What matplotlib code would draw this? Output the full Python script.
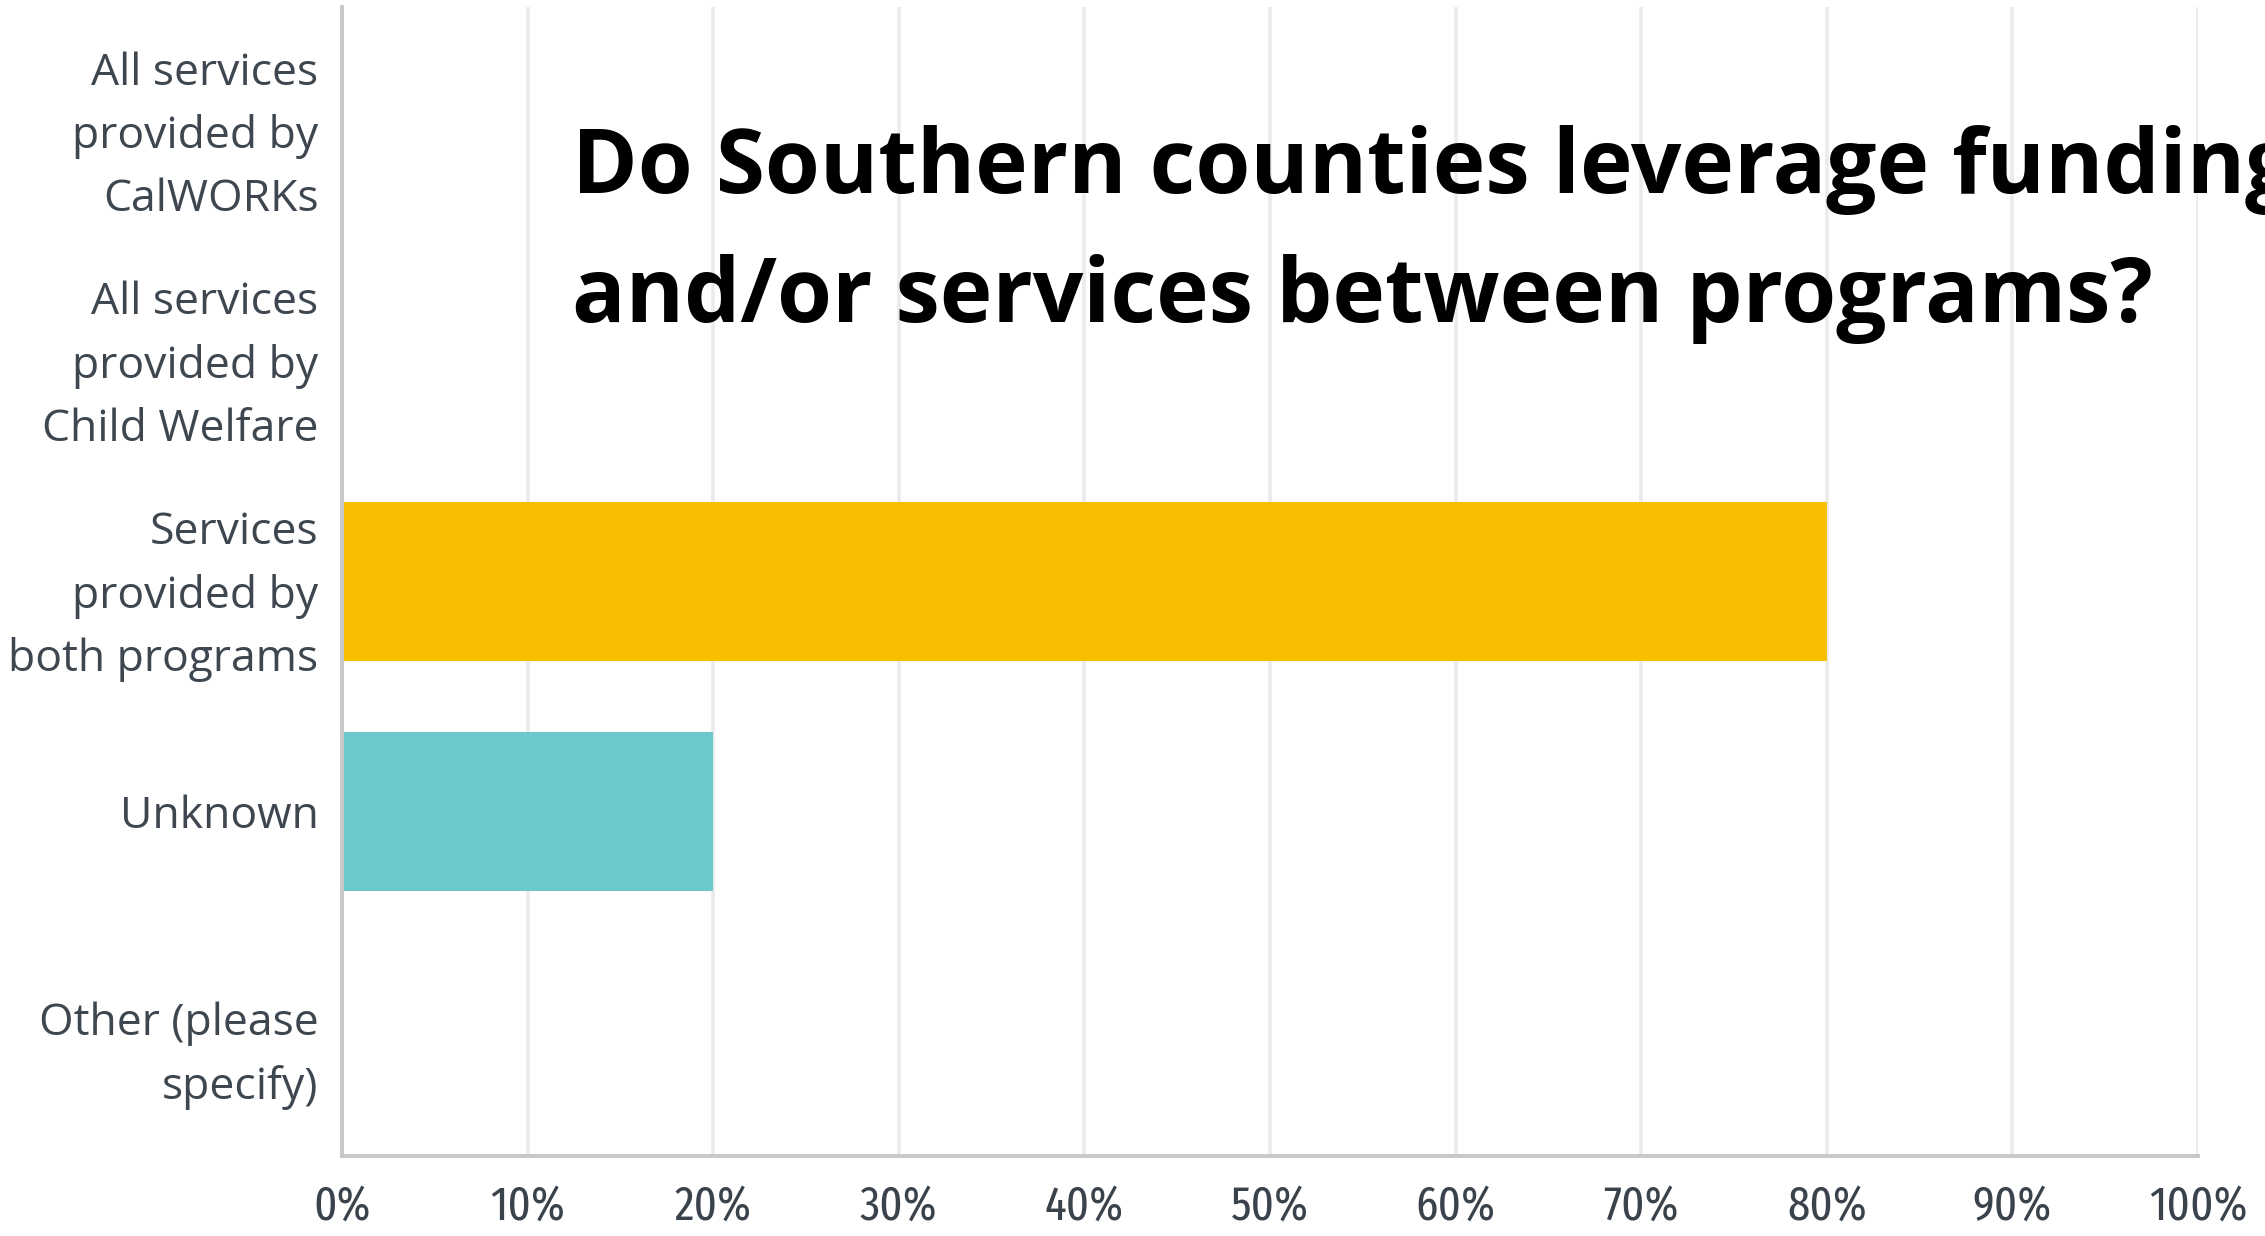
import matplotlib
matplotlib.use("Agg")
import matplotlib.pyplot as plt
from matplotlib import font_manager as fm
from matplotlib.ticker import FixedLocator, FuncFormatter

# Survey answers and the share of Southern counties giving each one (%)
categories = [
    "All services\nprovided by\nCalWORKs",
    "All services\nprovided by\nChild Welfare",
    "Services\nprovided by\nboth programs",
    "Unknown",
    "Other (please\nspecify)",
]
shares = [0, 0, 80, 20, 0]
bar_colors = ["#00BF6F", "#507CB6", "#F8BF00", "#6CC8CC", "#FF8B4F"]
x_ticks = [0, 10, 20, 30, 40, 50, 60, 70, 80, 90, 100]

title_lines = [
    "Do Southern counties leverage funding",
    "and/or services between programs?",
]


def narrow_font():
    """Pick the narrowest regular-weight face that is installed."""
    def rank(f):
        name = f.name.lower()
        st = str(f.stretch).lower()
        if "extra" in name and "condensed" in name or st in ("extra-condensed", "ultra-condensed"):
            return 0
        if ("condensed" in name and "semi" not in name) or st == "condensed":
            return 1
        if "narrow" in name:
            return 2
        if "condensed" in name or st == "semi-condensed":
            return 3
        return None

    best = None
    for f in fm.fontManager.ttflist:
        r = rank(f)
        if r is None or f.style != "normal" or f.weight not in (400, "normal", "regular"):
            continue
        if best is None or r < best[0]:
            best = (r, f)
    return fm.FontProperties(fname=best[1].fname) if best else None


W, H, DPI = 2265, 1236, 100
fig = plt.figure(figsize=(W / DPI, H / DPI), dpi=DPI)
fig.patch.set_facecolor("white")

ax = fig.add_axes([342 / W, 1 - 1156 / H, (2198 - 342) / W, (1156 - 7) / H])

y = list(range(len(categories)))
ax.barh(y, shares, height=0.69, color=bar_colors, zorder=3)

ax.set_xlim(0, 100)
ax.set_ylim(len(categories) - 0.5, -0.5)

ax.xaxis.set_major_locator(FixedLocator(x_ticks))
ax.xaxis.set_major_formatter(FuncFormatter(lambda v, _: f"{v:.0f}%"))
ax.set_yticks(y)
ax.set_yticklabels(categories)

ax.grid(axis="x", color="#ebebeb", linewidth=2.6, zorder=0)
ax.grid(axis="y", visible=False)
ax.set_axisbelow(True)

for side in ("top", "right"):
    ax.spines[side].set_visible(False)
for side in ("left", "bottom"):
    ax.spines[side].set_color("#c8c8c8")
    ax.spines[side].set_linewidth(2.8)
    ax.spines[side].set_zorder(4)

ax.tick_params(axis="both", length=0)
ax.tick_params(axis="y", pad=17, colors="#3e4750", labelsize=32)
ax.tick_params(axis="x", pad=20, colors="#3a434c", labelsize=35)

narrow = narrow_font()
for lbl in ax.get_xticklabels():
    if narrow is not None:
        lbl.set_fontproperties(narrow)
        lbl.set_fontsize(35)
    else:
        lbl.set_family(["Roboto", "DejaVu Sans"])

for lbl in ax.get_yticklabels():
    lbl.set_family(["Open Sans", "DejaVu Sans"])
    lbl.set_linespacing(1.55)

# Two-line bold heading over the plot area
baselines = [193, 322]
for text, yb in zip(title_lines, baselines):
    fig.text(572 / W, 1 - yb / H, text, fontsize=64, fontweight="bold",
             family=["Open Sans", "DejaVu Sans"], color="black",
             ha="left", va="baseline")

fig.savefig("out.png", dpi=DPI, facecolor="white")
